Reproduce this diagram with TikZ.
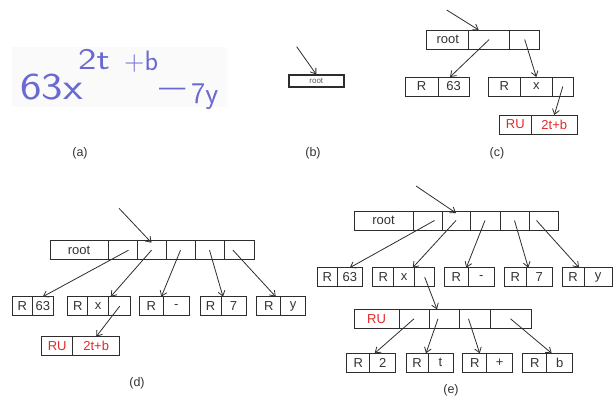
\documentclass[tikz,border=0pt]{standalone}
\usepackage{fontspec}
\setmainfont{Liberation Sans}
\usepackage{graphicx}
\usepackage{tikz}
\usetikzlibrary{arrows.meta,positioning}
\definecolor{inkblue}{RGB}{105,105,210}
\definecolor{rutext}{RGB}{228,40,40}
\definecolor{linegray}{RGB}{45,45,45}

\begin{document}
\begin{tikzpicture}[
  x=1pt, y=-1pt,
  cell/.style={draw=linegray, line width=0.8pt, minimum width=#1, minimum height=19pt,
    inner sep=0pt, outer sep=0pt, font=\fontsize{13}{15}\selectfont, text=black!80},
  cell/.default=29pt,
  rutxt/.style={text=rutext},
  ptr/.style={draw=linegray, line width=0.8pt, -{Straight Barb[length=5pt,width=7pt]}},
  hand/.style={inner sep=0pt, text=inkblue, font=\sffamily, anchor=base west},
  caption/.style={font=\fontsize{12.5}{14}\selectfont, text=black!80},
]
\useasboundingbox (0,0) rectangle (614,396);

% (a) handwritten input
\fill[black!2] (12,47) rectangle (227,107);
\node[hand, font=\sffamily\fontsize{38}{38}\selectfont] (hwbase) at (20,100) {\scalebox{1.2}[1]{63x}};
\node[hand, font=\sffamily\fontsize{30}{30}\selectfont] (hwsup) at (78,70) {\scalebox{1.3}[1]{2t}};
\node[hand, font=\sffamily\fontsize{28}{28}\selectfont] (hwplus) at (124,71) {+b};
\node[hand, font=\sffamily\fontsize{28}{28}\selectfont] (hwdash) at (159,97) {—};
\node[hand, font=\sffamily\fontsize{30}{30}\selectfont] (hwy) at (191,103) {7y};
\node[caption] (capA) at (80,153) {(a)};

% (b) empty root
\coordinate (bin) at (296.7,46.7);
\node[draw=linegray, line width=1.6pt, minimum width=55pt, minimum height=12pt, inner sep=0pt,
  font=\fontsize{8}{9}\selectfont, text=black!65, anchor=north west] (b0) at (288,74.5) {root};
\draw[ptr] (bin) -- (b0.north);
\node[caption] (capB) at (313,153) {(b)};

% (c) first terms
\node[cell=42pt, anchor=north west] (c0) at (426.7,30) {root};
\node[cell=41pt, right=0pt of c0] (c1) {};
\node[cell=30pt, right=0pt of c1] (c2) {};
\node[cell=33pt, anchor=north west] (cR1) at (405,77) {R};
\node[cell=31pt, right=0pt of cR1] (cV1) {63};
\node[cell=32pt, anchor=north west] (cR2) at (488.3,77) {R};
\node[cell=32pt, right=0pt of cR2] (cV2) {x};
\node[cell=21pt, right=0pt of cV2] (cP2) {};
\node[cell=32pt, rutxt, anchor=north west] (cRU) at (499.3,115) {RU};
\node[cell=46pt, rutxt, right=0pt of cRU] (cT) {2t+b};
\coordinate (cin) at (446.7,10);
\draw[ptr] (cin) -- ([xshift=10pt]c1.north west);
\draw[ptr] (c1.center) -- ([xshift=12pt]cV1.north west);
\draw[ptr] (c2.center) -- (cV2.north);
\draw[ptr] (cP2.center) -- (cT.north);
\node[caption] (capC) at (497,153) {(c)};

% (d) all terms, exponent unexpanded
\node[cell=58pt, anchor=north west] (d0) at (50,240.7) {root};
\node[cell, right=0pt of d0] (d1) {};
\node[cell, right=0pt of d1] (d2) {};
\node[cell, right=0pt of d2] (d3) {};
\node[cell, right=0pt of d3] (d4) {};
\node[cell=30pt, right=0pt of d4] (d5) {};
\node[cell=20pt, anchor=north west] (dR1) at (12.3,296.7) {R};
\node[cell=21pt, right=0pt of dR1] (dV1) {63};
\node[cell=20pt, anchor=north west] (dR2) at (67.7,296.7) {R};
\node[cell=21pt, right=0pt of dR2] (dV2) {x};
\node[cell=22pt, right=0pt of dV2] (dP2) {};
\node[cell=24pt, anchor=north west] (dR3) at (139.3,296.7) {R};
\node[cell=26pt, right=0pt of dR3] (dV3) {-};
\node[cell=21pt, anchor=north west] (dR4) at (200,296.7) {R};
\node[cell=25pt, right=0pt of dR4] (dV4) {7};
\node[cell=24pt, anchor=north west] (dR5) at (256.7,296.7) {R};
\node[cell=25pt, right=0pt of dR5] (dV5) {y};
\node[cell=31pt, rutxt, anchor=north west] (dRU) at (41.7,336.7) {RU};
\node[cell=47pt, rutxt, right=0pt of dRU] (dT) {2t+b};
\coordinate (din) at (119,208.3);
\draw[ptr] (din) -- ([yshift=-2pt]d2.north);
\draw[ptr] ([xshift=6pt]d1.center) -- (dV1.north);
\draw[ptr] (d2.center) -- ([xshift=2pt]dP2.north west);
\draw[ptr] (d3.center) -- ([xshift=-2pt]dV3.north west);
\draw[ptr] (d4.center) -- ([xshift=2pt]dV4.north west);
\draw[ptr] ([xshift=-6pt]d5.center) -- ([xshift=-5pt]dV5.north west);
\draw[ptr] (dP2.center) -- (dT.north);
\node[caption] (capD) at (137,383) {(d)};

% (e) exponent expanded
\node[cell=59pt, anchor=north west] (e0) at (354,211) {root};
\node[cell, right=0pt of e0] (e1) {};
\node[cell=28pt, right=0pt of e1] (e2) {};
\node[cell=30pt, right=0pt of e2] (e3) {};
\node[cell, right=0pt of e3] (e4) {};
\node[cell, right=0pt of e4] (e5) {};
\node[cell=20pt, anchor=north west] (eR1) at (317.3,267.7) {R};
\node[cell=25pt, right=0pt of eR1] (eV1) {63};
\node[cell=21pt, anchor=north west] (eR2) at (372.7,267.7) {R};
\node[cell=21pt, right=0pt of eR2] (eV2) {x};
\node[cell=20pt, right=0pt of eV2] (eP2) {};
\node[cell=24pt, anchor=north west] (eR3) at (444.3,267.7) {R};
\node[cell=26pt, right=0pt of eR3] (eV3) {-};
\node[cell=22pt, anchor=north west] (eR4) at (504.3,267.7) {R};
\node[cell=26pt, right=0pt of eR4] (eV4) {7};
\node[cell=22pt, anchor=north west] (eR5) at (562,267.7) {R};
\node[cell=28pt, right=0pt of eR5] (eV5) {y};
\node[cell=45pt, rutxt, anchor=north west] (f0) at (354,309.3) {RU};
\node[cell=30pt, right=0pt of f0] (f1) {};
\node[cell=30pt, right=0pt of f1] (f2) {};
\node[cell=31pt, right=0pt of f2] (f3) {};
\node[cell=41pt, right=0pt of f3] (f4) {};
\node[cell=23pt, anchor=north west] (gR1) at (346.7,353.3) {R};
\node[cell=26pt, right=0pt of gR1] (gV1) {2};
\node[cell=22pt, anchor=north west] (gR2) at (406,353.3) {R};
\node[cell=25pt, right=0pt of gR2] (gV2) {t};
\node[cell=24pt, anchor=north west] (gR3) at (462.7,353.3) {R};
\node[cell=26pt, right=0pt of gR3] (gV3) {+};
\node[cell=24pt, anchor=north west] (gR4) at (522.7,353.3) {R};
\node[cell=26pt, right=0pt of gR4] (gV4) {b};
\coordinate (ein) at (416,186);
\draw[ptr] (ein) -- ([yshift=-2pt]e2.north);
\draw[ptr] ([xshift=7pt]e1.center) -- (eV1.north);
\draw[ptr] (e2.center) -- ([xshift=-2pt]eP2.north west);
\draw[ptr] (e3.center) -- ([xshift=-2pt]eV3.north west);
\draw[ptr] (e4.center) -- ([xshift=2pt]eV4.north west);
\draw[ptr] ([xshift=-7pt]e5.center) -- ([xshift=-5pt]eV5.north west);
\draw[ptr] (eP2.center) -- ([xshift=8pt]f2.north west);
\draw[ptr] (f1.center) -- ([xshift=5pt]gV1.north west);
\draw[ptr] ([xshift=-6pt]f2.center) -- ([xshift=-2pt]gV2.north west);
\draw[ptr] ([xshift=-6pt]f3.center) -- ([xshift=-7pt]gV3.north west);
\draw[ptr] (f4.center) -- ([xshift=5pt]gV4.north west);
\node[caption] (capE) at (451,390) {(e)};
\end{tikzpicture}
\end{document}
